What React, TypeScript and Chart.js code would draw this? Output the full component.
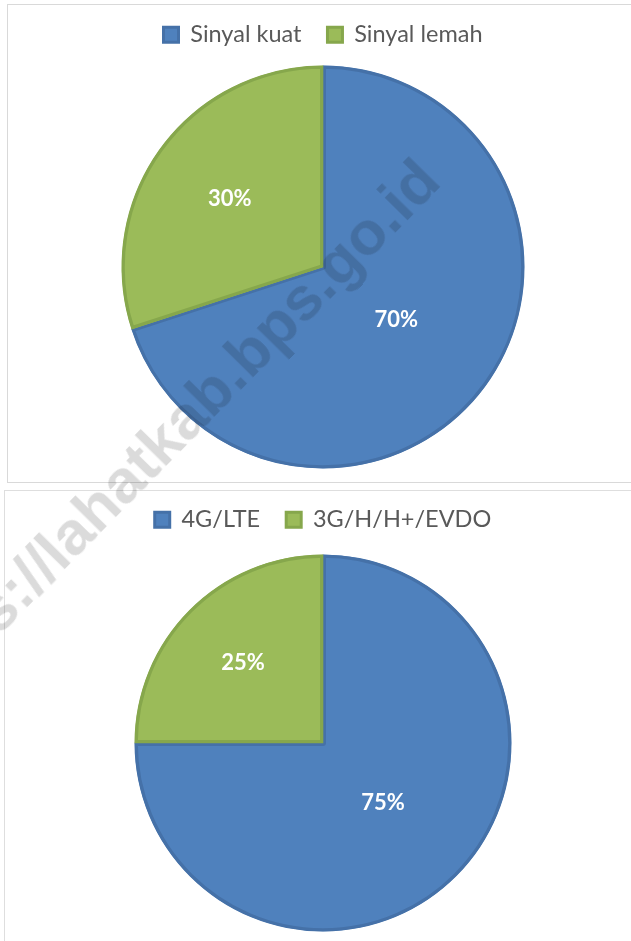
import React, { useEffect, useRef } from "react";
import { Chart, registerables } from "chart.js";

Chart.register(...registerables);

// ---- data ----
const signalLabels = ["Sinyal kuat", "Sinyal lemah"];
const signalValues = [70, 30];
const networkLabels = ["4G/LTE", "3G/H/H+/EVDO"];
const networkValues = [75, 25];
const sliceColors = ["#4F81BD", "#9BBB59"];
const sliceBorders = ["#4571A8", "#86A74C"];
const watermarkText = "https://lahatkab.bps.go.id";

const pctLabels = {
  id: "pctLabels",
  afterDatasetsDraw(chart: any) {
    const ctx = chart.ctx;
    const ds = chart.data.datasets[0];
    const meta = chart.getDatasetMeta(0);
    const total = ds.data.reduce((a: number, b: number) => a + b, 0);
    ctx.save();
    ctx.font = "bold 22px Lato";
    ctx.fillStyle = "#ffffff";
    ctx.textAlign = "center";
    ctx.textBaseline = "middle";
    meta.data.forEach((arc: any, i: number) => {
      const p = arc.getProps(["x", "y", "startAngle", "endAngle", "outerRadius"], true);
      const span = p.endAngle - p.startAngle;
      const mid = (p.startAngle + p.endAngle) / 2;
      const centroid = (2 * p.outerRadius * Math.sin(span / 2)) / (1.5 * span);
      const d = Math.max(centroid, 0.45 * p.outerRadius);
      const text = Math.round((ds.data[i] / total) * 100) + "%";
      ctx.fillText(text, p.x + Math.cos(mid) * d, p.y + Math.sin(mid) * d);
    });
    ctx.restore();
  },
};

function legendGap(gap: number) {
  return {
    id: "legendGap",
    beforeInit(chart: any) {
      const legend = chart.legend;
      if (!legend) return;
      const orig = legend.fit;
      legend.fit = function () {
        orig.call(this);
        this.height += gap;
      };
    },
  };
}

type PieProps = {
  labels: string[];
  values: number[];
  left: number;
  top: number;
  width: number;
  height: number;
  gap: number;
  padBottom: number;
};

function PieChart({ labels, values, left, top, width, height, gap, padBottom }: PieProps) {
  const ref = useRef<HTMLCanvasElement>(null);
  useEffect(() => {
    if (!ref.current) return;
    const chart = new Chart(ref.current, {
      type: "pie",
      data: {
        labels,
        datasets: [
          {
            data: values,
            backgroundColor: sliceColors,
            borderColor: sliceBorders,
            borderWidth: 3,
            borderAlign: "inner",
          } as any,
        ],
      },
      options: {
        responsive: false,
        animation: false,
        layout: { padding: { top: 0, bottom: padBottom, left: 0, right: 0 } },
        plugins: {
          legend: {
            position: "top",
            labels: {
              font: { family: "Lato", size: 23.5 },
              color: "#595959",
              boxWidth: 15,
              boxHeight: 15,
              padding: 26,
            },
          },
          tooltip: { enabled: false },
        },
      } as any,
      plugins: [pctLabels, legendGap(gap)],
    });
    return () => chart.destroy();
  }, []);
  return (
    <canvas
      ref={ref}
      width={width}
      height={height}
      style={{ position: "absolute", left, top, width, height }}
    />
  );
}

export default function App() {
  return (
    <div
      style={{
        position: "fixed",
        left: 0,
        top: 0,
        width: 631,
        height: 941,
        overflow: "hidden",
        background: "#ffffff",
      }}
    >
      <div
        style={{
          position: "absolute",
          left: 7,
          top: 4,
          width: 640,
          height: 477,
          border: "1px solid #d9d9d9",
        }}
      />
      <div
        style={{
          position: "absolute",
          left: 4,
          top: 490,
          width: 650,
          height: 470,
          border: "1px solid #dedede",
        }}
      />
      <PieChart
        labels={signalLabels}
        values={signalValues}
        left={6}
        top={-3}
        width={634}
        height={480}
        gap={9}
        padBottom={8.5}
      />
      <PieChart
        labels={networkLabels}
        values={networkValues}
        left={4}
        top={482}
        width={638}
        height={460}
        gap={13}
        padBottom={10.5}
      />
      <div
        style={{
          position: "absolute",
          left: 165,
          top: 437,
          transform: "translate(-50%, -50%) rotate(-45.5deg)",
          fontFamily: "'Liberation Sans', Arial, sans-serif",
          fontWeight: "bold",
          fontSize: 62,
          lineHeight: 1,
          whiteSpace: "nowrap",
          color: "rgba(0,0,0,0.14)",
          pointerEvents: "none",
        }}
      >
        {watermarkText}
      </div>
    </div>
  );
}
